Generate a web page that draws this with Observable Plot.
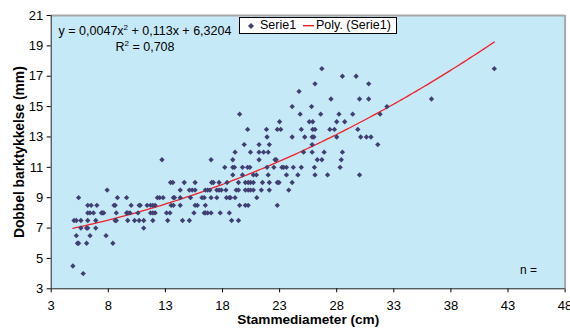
<!DOCTYPE html>
<html><head><meta charset="utf-8">
<script src="https://cdn.jsdelivr.net/npm/d3@7"></script>
<script src="https://cdn.jsdelivr.net/npm/@observablehq/plot@0.6"></script>
<style>
html,body{margin:0;padding:0;background:#fff;}
#wrap{position:relative;width:570px;height:331px;font-family:"Liberation Sans",Arial,sans-serif;color:#000;overflow:hidden;}
#wrap svg{display:block;}
.ov{position:absolute;white-space:nowrap;}
#eq{left:50px;top:24px;width:190px;text-align:center;font-size:12.5px;line-height:15px;}
#eq sup{font-size:8px;vertical-align:0;position:relative;top:-5px;}
#legend{left:239px;top:17px;width:158px;height:17px;box-sizing:border-box;border:1px solid #000;background:#fff;font-size:12.5px;}
#legend span{position:absolute;top:0px;line-height:15px;}
#nlab{left:520px;top:263px;font-size:12px;}
</style></head><body><div id="wrap"></div>
<script>
// Tick labels
const xTicks = [3, 8, 13, 18, 23, 28, 33, 38, 43, 48];
const yTicks = [3, 5, 7, 9, 11, 13, 15, 17, 19, 21];

// Double bark thickness levels (mm) and the stem diameters (cm) observed at each level
const thicknessLevels = [4, 4.5, 6, 6.5, 7, 7.5, 8, 8.5, 9, 9.5, 10, 10.5, 11, 11.5, 12, 12.5, 13, 13.5, 14, 14.5, 15, 15.5, 16, 16.5, 17, 17.5];
const diametersAtLevel = [
  [5.8],
  [4.9],
  [5.3, 5.4, 6.1, 8.4],
  [5.2, 6.4, 7.8],
  [5.6, 6.1, 6.2, 6.9, 11.1],
  [5.0, 5.2, 5.6, 6.2, 6.9, 8.6, 8.7, 9.7, 10.3, 10.7, 11.1, 11.9, 13.2, 14.5, 15.1, 18.8, 19.4],
  [6.2, 6.4, 6.7, 7.4, 7.5, 7.6, 8.7, 9.6, 9.7, 9.9, 10.6, 11.7, 11.9, 12.1, 13.1, 13.4, 15.5, 16.4, 16.5, 16.7, 17.0, 17.8, 18.6],
  [6.2, 6.5, 7.0, 8.5, 8.6, 10.0, 10.7, 10.8, 11.4, 11.7, 11.9, 12.1, 13.5, 13.7, 14.3, 15.6, 15.8, 16.5, 19.5, 20.0, 20.25, 22.8],
  [5.4, 8.8, 9.6, 12.3, 12.5, 12.8, 13.7, 13.8, 14.3, 15.2, 16.2, 16.4, 17.0, 17.5, 18.35, 18.6, 18.7, 19.1, 21.0],
  [7.9, 14.3, 15.1, 15.35, 15.6, 16.5, 16.7, 16.9, 17.5, 17.7, 17.9, 18.3, 19.2, 19.4, 20.0, 20.25, 20.45, 20.7, 21.4, 22.1, 23.8],
  [13.45, 13.65, 14.65, 15.6, 17.05, 17.2, 17.7, 18.4, 19.4, 20.0, 20.25, 20.45, 20.7, 21.5, 22.1, 22.8, 22.95, 24.1],
  [18.9, 19.75, 20.7, 20.97, 22.0, 23.6, 24.6, 26.1, 27.2, 30.0],
  [18.2, 18.9, 19.05, 19.75, 20.2, 20.4, 21.9, 22.5, 23.2, 23.35, 23.6, 24.2, 24.9, 26.05, 28.3],
  [12.7, 17.0, 18.9, 21.2, 22.6, 22.7, 26.3, 26.7, 28.4],
  [19.1, 20.45, 21.2, 21.6, 22.0, 25.1, 25.85, 26.9, 28.5],
  [19.9, 21.2, 22.1, 25.85, 31.6],
  [21.9, 24.1, 25.2, 25.85, 26.0, 28.0, 30.1, 30.6, 31.0],
  [20.2, 21.85, 22.8, 23.1, 24.9, 25.9, 26.1, 27.4, 27.8, 29.85],
  [23.0, 25.6, 25.9, 28.0, 28.7],
  [19.5, 24.8, 26.6, 28.2, 29.4, 31.8],
  [24.1, 25.8, 32.4],
  [27.5, 30.0, 30.8, 36.3],
  [24.7],
  [26.1, 30.8],
  [28.5, 29.7],
  [26.7, 41.8]
];

// Polynomial trendline coefficients as printed on the chart (a, b, c)
const trendCoef = [0.0047, 0.113, 6.3204];

const points = thicknessLevels.flatMap((t, i) => diametersAtLevel[i].map(d => ({x: d, y: t})));
const [xmin, xmax] = d3.extent(points, p => p.x);
const trend = d3.range(xmin, xmax, 0.25).concat([xmax]).map(x => ({x, y: trendCoef[0]*x*x + trendCoef[1]*x + trendCoef[2]}));

const chart = Plot.plot({
  width: 570, height: 331,
  marginLeft: 50.7, marginRight: 5.4, marginTop: 15, marginBottom: 42.7,
  x: {domain: [3, 48]},
  y: {domain: [3, 21]},
  style: {fontFamily: "Liberation Sans, Arial, sans-serif", fontSize: "13px", background: "#fff", color: "#000", overflow: "visible"},
  marks: [
    Plot.frame({fill: "#c6e9f8", stroke: null}),
    Plot.ruleY([21], {stroke: "#a8a8a8", strokeWidth: 2}),
    Plot.ruleX([48], {stroke: "#a8a8a8", strokeWidth: 2}),
    Plot.axisX({ticks: xTicks, tickSize: 4, tickPadding: 8, label: null, tickFormat: d => String(d)}),
    Plot.axisY({ticks: yTicks, tickSize: 4, tickPadding: 4, label: null, tickFormat: d => String(d)}),
    Plot.ruleX([3], {stroke: "#222"}),
    Plot.ruleY([3], {stroke: "#222"}),
    Plot.line(trend, {x: "x", y: "y", stroke: "#f0202a", strokeWidth: 1.3}),
    Plot.dot(points, {x: "x", y: "y", symbol: "diamond2", r: 2.4, fill: "#3f3f72", stroke: null}),
    Plot.text(["Stammediameter (cm)"], {frameAnchor: "bottom", dy: 35.6, fontWeight: "bold", fontSize: 13.6, text: d => d}),
    Plot.text(["Dobbel barktykkelse (mm)"], {frameAnchor: "left", textAnchor: "middle", dx: -31.7, rotate: -90, fontWeight: "bold", fontSize: 13.8, text: d => d})
  ]
});

const wrap = document.getElementById("wrap");
wrap.appendChild(chart);
wrap.insertAdjacentHTML("beforeend",
  '<div class="ov" id="eq">y = 0,0047x<sup>2</sup> + 0,113x + 6,3204<br>R<sup>2</sup> = 0,708</div>' +
  '<div class="ov" id="legend">' +
    '<svg style="position:absolute;left:8px;top:5px" width="6" height="6"><path d="M3 0L6 3L3 6L0 3Z" fill="#3f3f72"/></svg>' +
    '<span style="left:20px">Serie1</span>' +
    '<svg style="position:absolute;left:63px;top:7px" width="11" height="2"><rect width="11" height="1.4" fill="#f0202a"/></svg>' +
    '<span style="left:76px">Poly. (Serie1)</span>' +
  '</div>' +
  '<div class="ov" id="nlab">n =</div>');
</script>
</body></html>
